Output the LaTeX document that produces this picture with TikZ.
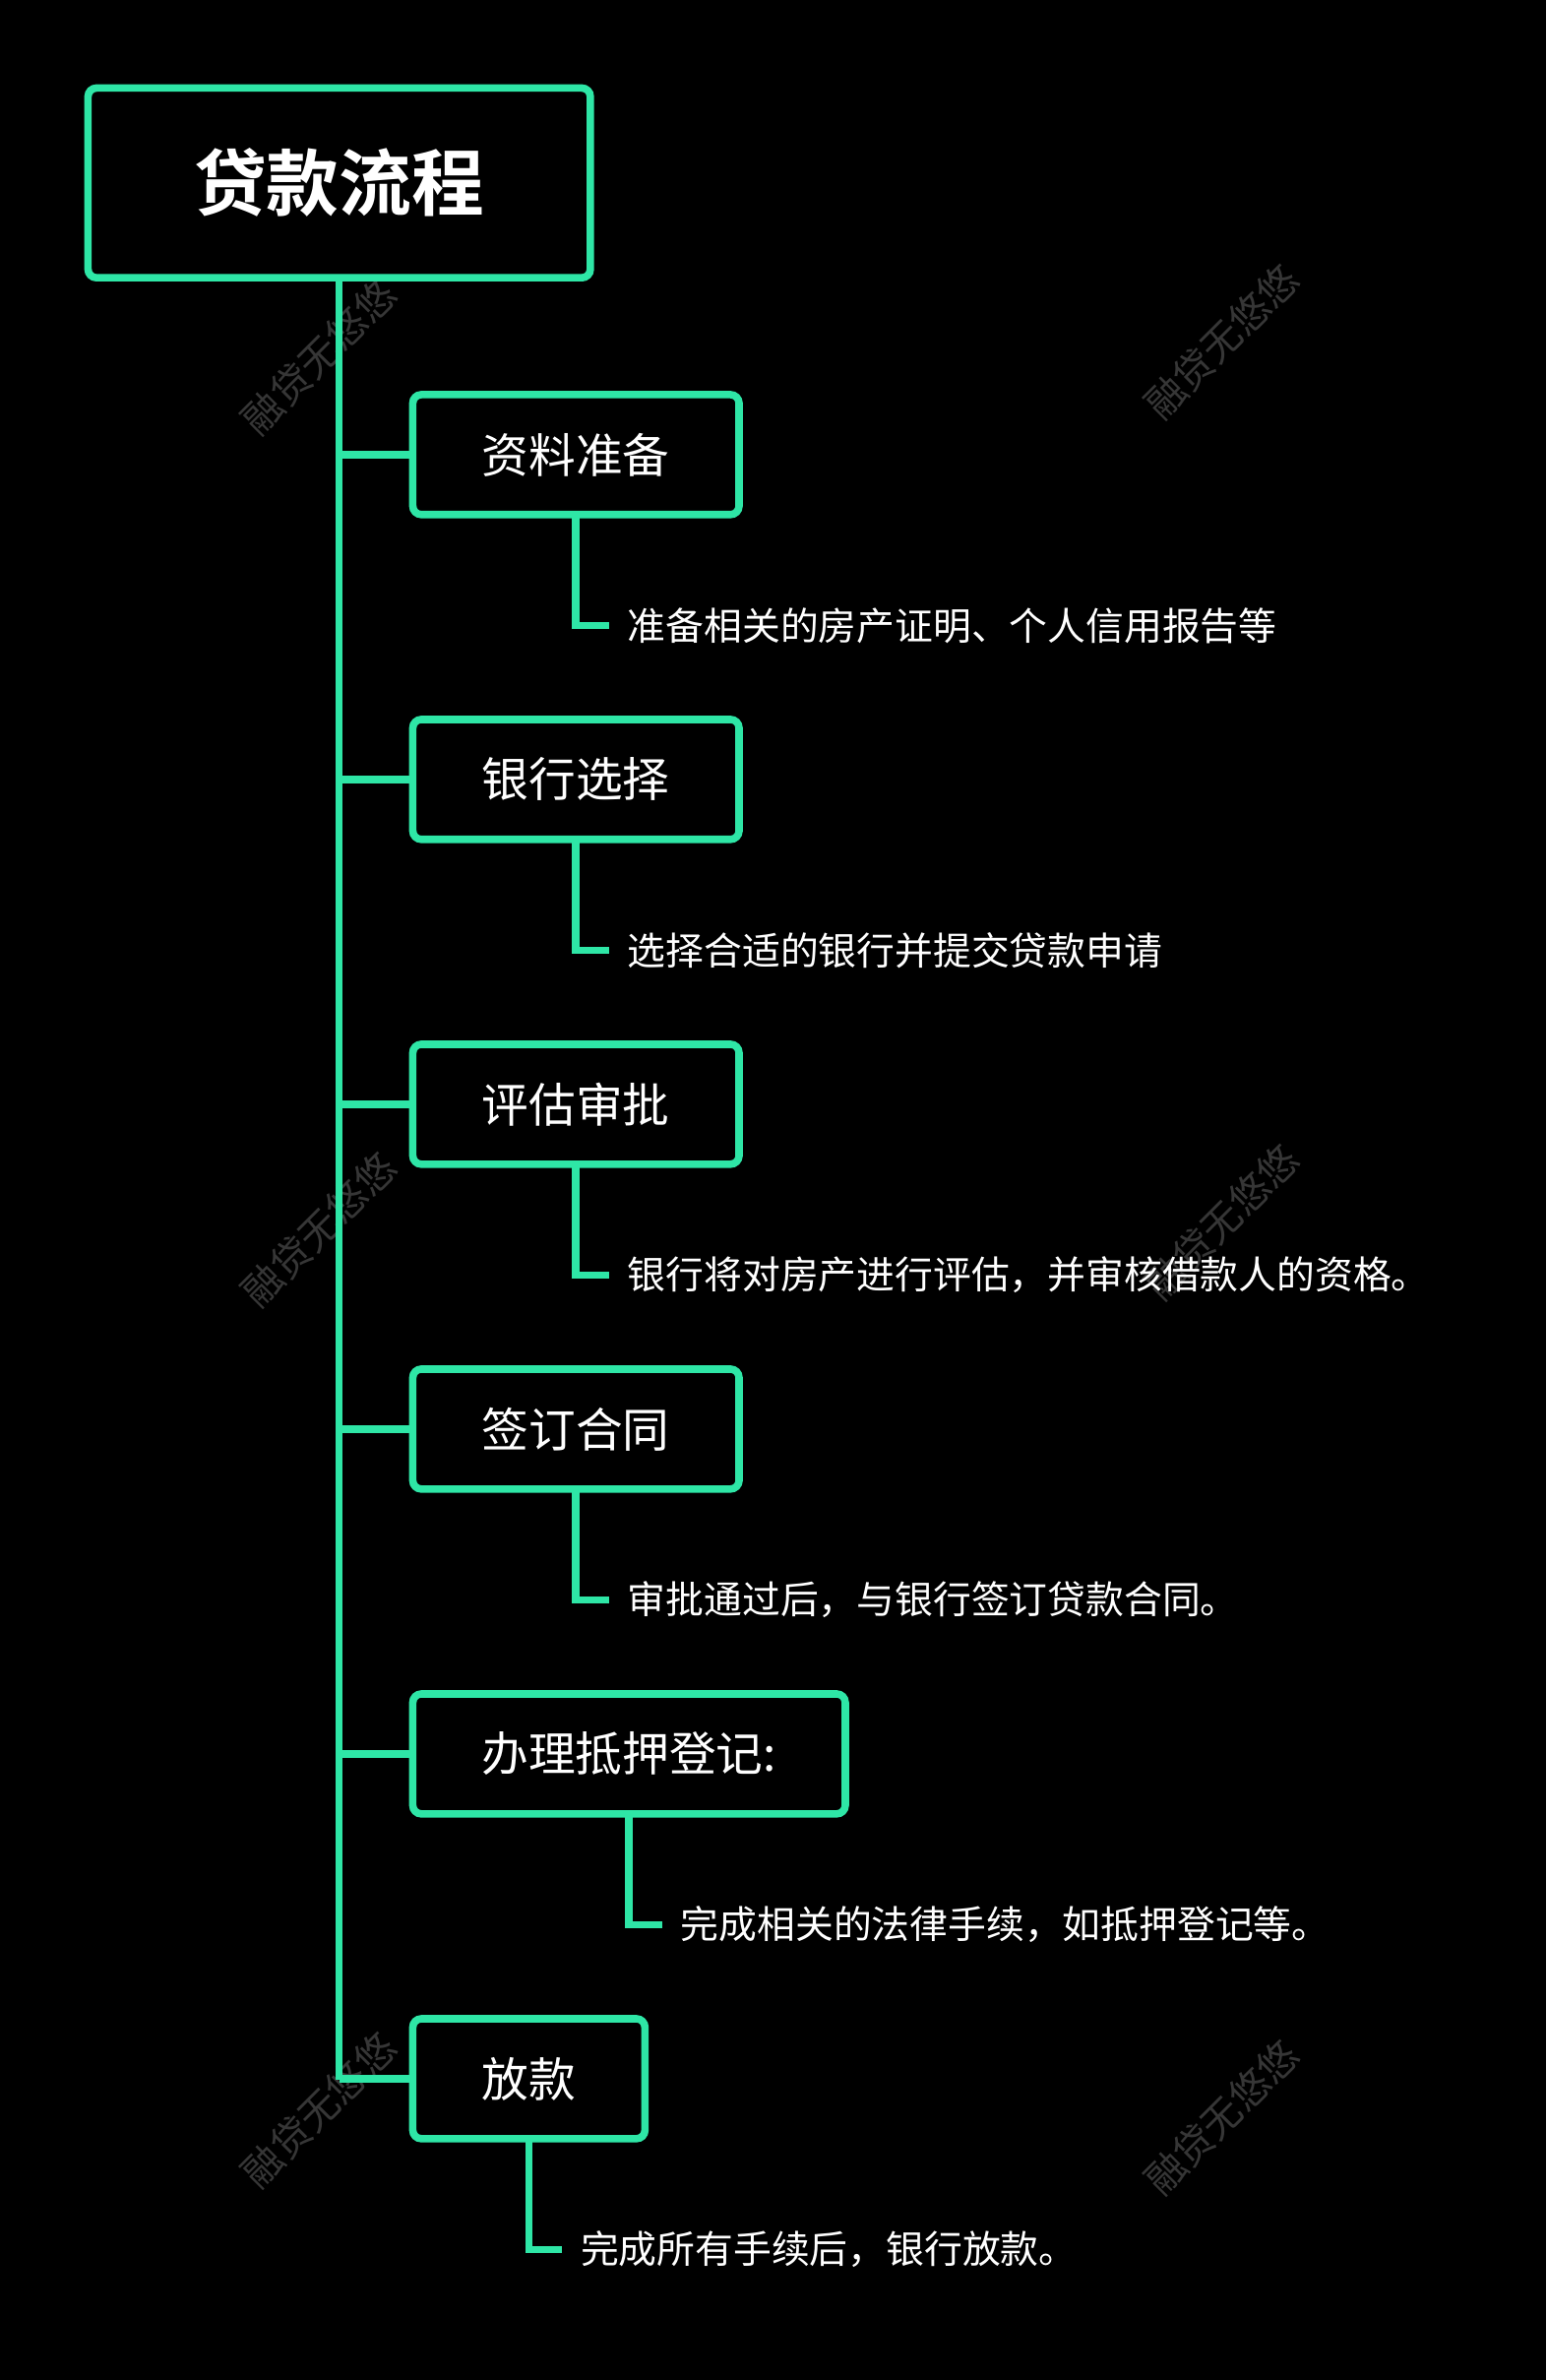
\documentclass[tikz,border=0pt]{standalone}
\usepackage{fontspec}
\newfontfamily\cjk{Noto Sans CJK SC}
\newfontfamily\cjkb{Noto Sans CJK SC Bold}
\definecolor{gr}{HTML}{2EE6A6}
\definecolor{wm}{HTML}{363636}
\begin{document}
\begin{tikzpicture}[x=0.05cm,y=-0.05cm,
  box/.style={draw=gr,line width=7pt,rounded corners=8pt,text=white,font=\cjk\fontsize{44}{50}\selectfont,inner sep=0pt,outer sep=0pt,anchor=north west},
  ln/.style={draw=gr,line width=7pt},
  desc/.style={text=white,font=\cjk\fontsize{35.8}{40}\selectfont,anchor=west,inner sep=0pt},
  wmk/.style={text=wm,font=\cjk\fontsize{37}{40}\selectfont,rotate=45}]
\fill[black] (0,0) rectangle (1019,1568);
\useasboundingbox (0,0) rectangle (1019,1568);
\foreach \x/\y in {210/235,805/225,210/810,805/805,210/1390,805/1395}
  \node[wmk] at (\x,\y) {融贷无悠悠};
\node[box,minimum width=331*0.05cm,minimum height=125*0.05cm,font=\cjkb\fontsize{68}{70}\selectfont] (root) at (58,58) {贷款流程};
\coordinate (tb) at (root.south |- 0,1370);
\draw[ln] (root.south) -- (tb);
\foreach \i/\t/\y/\w/\cx/\d in {
 1/资料准备/260/215/380/准备相关的房产证明、个人信用报告等,
 2/银行选择/474/215/380/选择合适的银行并提交贷款申请,
 3/评估审批/688/215/380/银行将对房产进行评估，并审核借款人的资格。,
 4/签订合同/902/215/380/审批通过后，与银行签订贷款合同。,
 5/办理抵押登记:/1116/285/414/完成相关的法律手续，如抵押登记等。,
 6/放款/1330/153/348/完成所有手续后，银行放款。}{
  \node[box,minimum width=\w*0.05cm,minimum height=79*0.05cm] (b\i) at (272,\y) {\t};
  \coordinate (t\i) at (root.south |- b\i.west);
  \draw[ln] (t\i) -- (b\i.west);
  \coordinate (c\i) at ([yshift=-73*0.05cm]b\i.south);
  \node[desc] (d\i) at ([xshift=34*0.05cm]c\i) {\d};
  \draw[ln] (b\i.south) -- (c\i) -- ([xshift=22*0.05cm]c\i);
}
\end{tikzpicture}
\end{document}
